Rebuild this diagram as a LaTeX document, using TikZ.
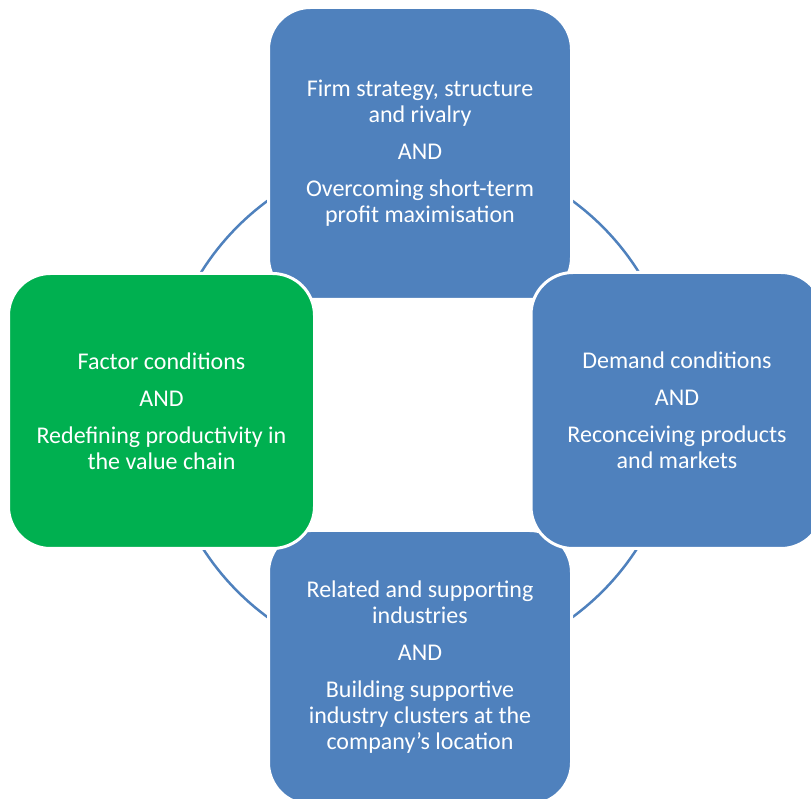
\documentclass[tikz,border=0pt]{standalone}
\usepackage{fontspec}
\setmainfont{Carlito}
\usepackage{tikz}

\definecolor{diamondblue}{HTML}{4F81BD}
\definecolor{factorgreen}{HTML}{00B050}

\begin{document}
\begin{tikzpicture}[x=1pt, y=1pt,
    cornerbox/.style={rectangle, rounded corners=42pt, draw=white, line width=3pt,
        fill=diamondblue, text=white, align=center, inner sep=0pt,
        font=\fontsize{24}{26}\selectfont},
    ring/.style={draw=diamondblue, line width=2.5pt}]
    \useasboundingbox (0,0) rectangle (811,798);
    % Ring behind the four boxes
    \coordinate (hub) at (420,389);
    \draw[ring] (hub) circle (258);
    % Top box
    \node[cornerbox, minimum width=303, minimum height=292] (firm) at (420,644.5)
        {Firm strategy, structure\\ and rivalry\\[11pt] AND\\[11pt]
         Overcoming short-term\\ profit maximisation};
    % Bottom box
    \node[cornerbox, minimum width=303, minimum height=274] (related) at (420,130.5)
        {Related and supporting\\ industries\\[11pt] AND\\[11pt]
         Building supportive\\ industry clusters at the\\ company's location};
    % Left box
    \node[cornerbox, fill=factorgreen, minimum width=306, minimum height=275] (factor) at (161.5,387)
        {Factor conditions\\[11pt] AND\\[11pt]
         Redefining productivity in\\ the value chain};
    % Right box, runs off the edge
    \node[cornerbox, minimum width=292, minimum height=276] (demand) at (677,387.5)
        {Demand conditions\\[11pt] AND\\[11pt]
         Reconceiving products\\ and markets};
\end{tikzpicture}
\end{document}
